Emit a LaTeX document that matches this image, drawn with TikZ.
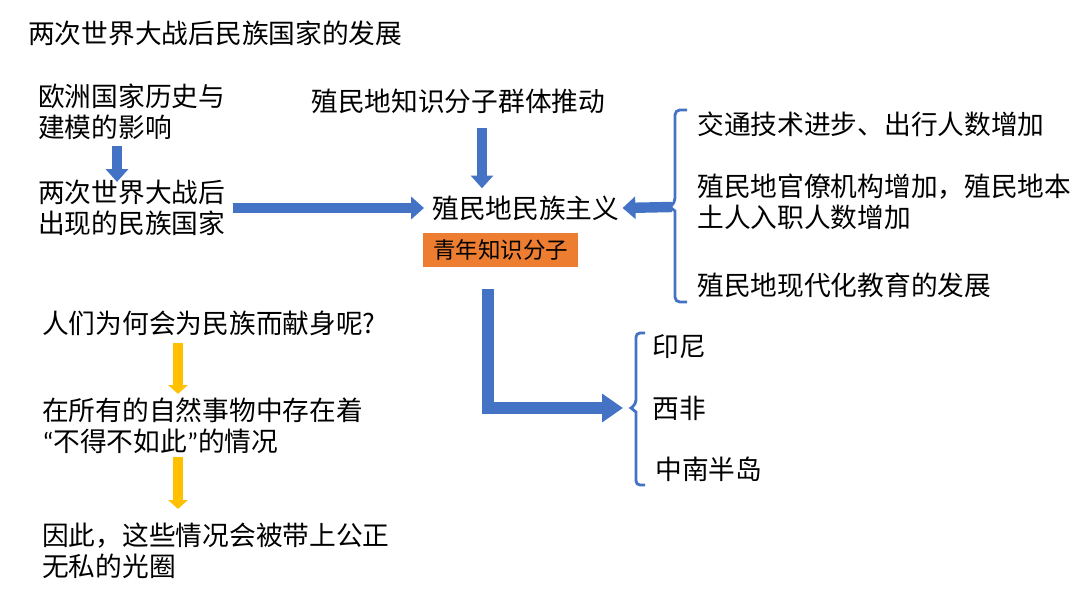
\documentclass[tikz,border=0pt]{standalone}
\usepackage{fontspec}
\setmainfont{Noto Sans CJK SC}
\newfontfamily\latinq{Carlito}
\usetikzlibrary{arrows.meta,calc}
\definecolor{arrowblue}{HTML}{4472C4}
\definecolor{arrowgold}{HTML}{FFC000}
\definecolor{boxorange}{HTML}{ED7D31}
\tikzset{
  txt/.style={anchor=west, inner sep=0pt, align=left, font=\fontsize{19pt}{22pt}\selectfont},
  bluearrow/.style={draw=arrowblue, line width=0.26cm, -{Triangle[width=0.55cm,length=0.32cm]}},
  bigarrow/.style={draw=arrowblue, line width=0.3cm, line join=miter, -{Triangle[width=0.68cm,length=0.52cm]}},
  goldarrow/.style={draw=arrowgold, line width=0.25cm, -{Triangle[width=0.48cm,length=0.22cm]}},
  bracket/.style={draw=arrowblue, line width=0.07cm},
}
\begin{document}
\begin{tikzpicture}[x=0.025cm,y=-0.025cm]
  \fill[white] (0,0) rectangle (1080,605);
  \useasboundingbox (0,0) rectangle (1080,605);

  % title
  \node[txt] (title) at (28,33) {两次世界大战后民族国家的发展};

  % left column, upper part
  \node[txt] (euro) at (38,112) {欧洲国家历史与\\建模的影响};
  \node[txt] (wars) at (38,208) {两次世界大战后\\出现的民族国家};

  % centre
  \node[txt] (push) at (311,101) {殖民地知识分子群体推动};
  \node[txt] (nat) at (432,208) {殖民地民族主义};
  \node[fill=boxorange, minimum width=3.88cm, minimum height=0.85cm, inner sep=0pt,
        font=\fontsize{16pt}{18pt}\selectfont] (youth) at (500.5,250) {青年知识分子};

  % factors on the right
  \node[txt] (f1) at (697,124) {交通技术进步、出行人数增加};
  \node[txt] (f2) at (697,202) {殖民地官僚机构增加，殖民地本\\土人入职人数增加};
  \node[txt] (f3) at (697,285) {殖民地现代化教育的发展};
  \draw[bracket] (687,110) [rounded corners=0.12cm] -- (675,110) -- (675,203)
    [sharp corners] -- (670,207) -- (675,211) [rounded corners=0.12cm] -- (675,302) -- (687,302);
  \coordinate (b1) at (672,207);

  % regions
  \node[txt] (c1) at (652,347) {印尼};
  \node[txt] (c2) at (652,408) {西非};
  \node[txt] (c3) at (655,469) {中南半岛};
  \draw[bracket] (645,333) [rounded corners=0.1cm] -- (636,333) -- (636,404)
    [sharp corners] -- (631,408) -- (636,412) [rounded corners=0.1cm] -- (636,485) -- (645,485);
  \coordinate (b2) at (629,408);

  % left column, lower part
  \node[txt] (q1) at (42,323) {人们为何会为民族而献身呢?};
  \node[txt] (q2) at (42,426) {在所有的自然事物中存在着\\{\latinq “}不得不如此{\latinq ”}的情况};
  \node[txt] (q3) at (42,551) {因此，这些情况会被带上公正\\无私的光圈};

  % blue arrows
  \draw[bluearrow] ($(euro.south west)+(79,6)$) -- ($(wars.north west)+(79,2)$);
  \draw[bluearrow] ($(wars.east)+(7,0)$) -- ($(nat.west)+(-8,0)$);
  \draw[bluearrow] ($(push.south west)+(171,14)$) -- ($(nat.north west)+(50,-7)$);
  \draw[bluearrow] (b1) -- ($(nat.east)+(3,0)$);
  \draw[bigarrow] ($(youth.south)+(-13,22)$) |- ($(b2)+(-6,0)$);

  % gold arrows
  \draw[goldarrow] ($(q1.south west)+(136,7)$) -- ($(q2.north west)+(136,-4)$);
  \draw[goldarrow] ($(q2.south west)+(136,3)$) -- ($(q3.north west)+(136,-14)$);
\end{tikzpicture}
\end{document}
